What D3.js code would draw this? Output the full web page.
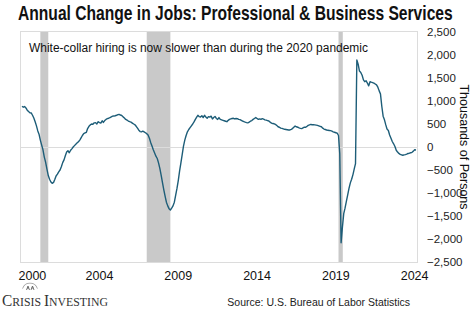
<!DOCTYPE html>
<html>
<head>
<meta charset="utf-8">
<script src="https://cdn.jsdelivr.net/npm/d3@7"></script>
<style>
  body { margin: 0; background: #fff; }
  svg { display: block; }
  .narrow { font-family: "Liberation Sans Narrow", "Arial Narrow", "Liberation Sans", Arial, sans-serif; }
</style>
</head>
<body>
<svg id="chart"></svg>
<script>
// Annual change in jobs, thousands, monthly from Jan 2000
const startYear = 2000;
const jobsChange = [
  // 2000
  885, 865, 880, 850, 800, 770, 745, 740, 690, 630, 550, 460,
  // 2001
  350, 270, 150, 40, -60, -220, -330, -480, -620, -700, -760, -790,
  // 2002
  -770, -700, -630, -590, -540, -500, -430, -340, -280, -190, -110, -80,
  // 2003
  -125, -70, -40, 0, 30, 60, 90, 115, 150, 200, 250, 290,
  // 2004
  305, 320, 400, 450, 480, 500, 495, 525, 530, 500, 550, 530,
  // 2005
  520, 570, 535, 575, 600, 615, 625, 640, 655, 670, 675, 680,
  // 2006
  690, 705, 710, 695, 685, 655, 630, 600, 585, 565, 550, 540,
  // 2007
  520, 500, 485, 450, 410, 365, 335, 330, 345, 330, 310, 290,
  // 2008
  260, 190, 100, 20, -60, -130, -200, -250, -350, -470, -620, -780,
  // 2009
  -935, -1080, -1200, -1280, -1340, -1370, -1330, -1280, -1200, -1050, -900, -730,
  // 2010
  -520, -340, -170, 20, 150, 250, 330, 380, 420, 460, 500, 545,
  // 2011
  600, 650, 690, 660, 650, 680, 640, 690, 650, 625, 660, 650,
  // 2012
  670, 610, 640, 665, 620, 600, 640, 600, 590, 580, 570, 560,
  // 2013
  550, 580, 600, 610, 620, 625, 610, 620, 615, 600, 595, 580,
  // 2014
  565, 550, 540, 530, 525, 540, 560, 575, 600, 620, 640, 620,
  // 2015
  600, 610, 600, 615, 605, 590, 585, 575, 565, 540, 520, 510,
  // 2016
  505, 490, 470, 440, 430, 410, 405, 395, 385, 380, 375, 370,
  // 2017
  370, 385, 400, 430, 455, 440, 430, 415, 405, 400, 415, 430,
  // 2018
  430, 450, 470, 480, 490, 485, 485, 480, 475, 470, 460, 450,
  // 2019
  440, 410, 390, 380, 370, 365, 360, 355, 345, 330, 320, 310,
  // 2020
  300, 250, -150, -2080, -1750, -1450, -1330, -1180, -1040, -900, -780, -700,
  // 2021
  -600, -470, -360, 1890, 1800, 1650, 1620, 1560, 1460, 1420, 1440, 1390,
  // 2022
  1330, 1420, 1410, 1400, 1390, 1370, 1350, 1300, 1220, 1150, 880, 670,
  // 2023
  590, 480, 390, 360, 260, 190, 120, 70, 10, -70, -110, -140,
  // 2024
  -160, -170, -180, -170, -165, -155, -140, -135, -125, -115, -90, -60,
  // 2025
  -65
];

// Recessions (start, end)
const recessions = [
  ["2001-03-01", "2001-09-01"],
  ["2007-12-01", "2009-06-01"],
  ["2020-02-01", "2020-05-10"]
];

const xTickYears = [2000, 2004, 2009, 2014, 2019, 2024];
const yTicks = [2500, 2000, 1500, 1000, 500, 0, -500, -1000, -1500, -2000, -2500];

const width = 474;
const height = 312;
const plot = { left: 20, right: 417, top: 31, bottom: 262 };

const svg = d3.select("#chart").attr("width", width).attr("height", height);

const parse = d3.timeParse("%Y-%m-%d");
const data = jobsChange.map((v, i) => ({ date: new Date(startYear, i, 1), value: v }));

const x = d3.scaleTime()
  .domain([new Date(2000, 0, 1), new Date(2025, 0, 1)])
  .range([22, 416]);
const y = d3.scaleLinear().domain([-2500, 2500]).range([262, 32]);

// squeeze a text horizontally so it fills a given width
function fitText(sel, left, baseline, targetWidth) {
  const w = sel.node().getComputedTextLength();
  sel.attr("transform", `translate(${left},${baseline}) scale(${targetWidth / w},1)`);
}

// Recession shading
svg.append("g")
  .selectAll("rect")
  .data(recessions)
  .join("rect")
  .attr("x", d => x(parse(d[0])))
  .attr("width", d => x(parse(d[1])) - x(parse(d[0])))
  .attr("y", plot.top)
  .attr("height", plot.bottom - plot.top)
  .attr("fill", "#c9c9c9");

// Plot frame
svg.append("rect")
  .attr("x", plot.left + 0.5)
  .attr("y", plot.top + 0.5)
  .attr("width", plot.right - plot.left)
  .attr("height", plot.bottom - plot.top)
  .attr("fill", "none")
  .attr("stroke", "#dcdcdc");

// Zero line
svg.append("line")
  .attr("x1", plot.left).attr("x2", plot.right)
  .attr("y1", Math.round(y(0)) + 0.5).attr("y2", Math.round(y(0)) + 0.5)
  .attr("stroke", "#dcdcdc");

// Line
const line = d3.line()
  .x(d => x(d.date))
  .y(d => y(d.value));

svg.append("path")
  .datum(data)
  .attr("d", line)
  .attr("fill", "none")
  .attr("stroke", "#1d5d78")
  .attr("stroke-width", 1.4)
  .attr("stroke-linejoin", "round");

// Y axis on the right
const yAxis = svg.append("g")
  .attr("class", "narrow")
  .attr("transform", `translate(${plot.right},0)`)
  .call(d3.axisRight(y).tickValues(yTicks).tickSize(0).tickPadding(10)
    .tickFormat(d3.format(",")));
yAxis.select(".domain").remove();
yAxis.selectAll("text")
  .attr("font-size", 11.5)
  .attr("fill", "#222")
  .attr("font-family", null);

// X axis
const xAxis = svg.append("g")
  .attr("class", "narrow")
  .attr("transform", `translate(0,${plot.bottom})`)
  .call(d3.axisBottom(x)
    .tickValues(xTickYears.map(yr => new Date(yr, 0, 1)))
    .tickSize(0).tickPadding(9)
    .tickFormat(d3.timeFormat("%Y")));
xAxis.select(".domain").remove();
xAxis.selectAll("text")
  .attr("text-anchor", "start")
  .attr("font-size", 12.5)
  .attr("fill", "#111")
  .attr("font-family", null)
  .attr("dx", (d, i) => i === 0 ? -4 : 0);

// Axis title
svg.append("text")
  .attr("class", "narrow")
  .attr("transform", `translate(460,${y(0)}) rotate(90)`)
  .attr("text-anchor", "middle")
  .attr("font-size", 12.5)
  .attr("fill", "#111")
  .text("Thousands of Persons");

// Title
const title = svg.append("text")
  .attr("class", "narrow")
  .attr("font-size", 19.5)
  .attr("font-weight", "bold")
  .attr("fill", "#111")
  .text("Annual Change in Jobs: Professional & Business Services");
fitText(title, 18, 20, 435);

// Subtitle
const subtitle = svg.append("text")
  .attr("class", "narrow")
  .attr("font-size", 13.5)
  .attr("fill", "#111")
  .text("White-collar hiring is now slower than during the 2020 pandemic");
fitText(subtitle, 29, 52, 339);

// Source
svg.append("text")
  .attr("class", "narrow")
  .attr("x", 410)
  .attr("y", 306)
  .attr("text-anchor", "end")
  .attr("font-size", 10.5)
  .attr("fill", "#222")
  .text("Source: U.S. Bureau of Labor Statistics");

// Logo
const logo = svg.append("g");
logo.append("path")
  .attr("d", d3.arc()({ innerRadius: 7.5, outerRadius: 8.2, startAngle: -1.25, endAngle: 1.25 }))
  .attr("transform", "translate(30,291)")
  .attr("fill", "#999");
logo.selectAll("path.fig")
  .data([26.5, 31])
  .join("path")
  .attr("class", "fig")
  .attr("d", d => `M${d},290 l1.5,-4 l1.5,4 M${d + 0.5},288 h2`)
  .attr("stroke", "#555")
  .attr("stroke-width", 0.8)
  .attr("fill", "none");
const logoText = logo.append("text")
  .attr("font-family", "Liberation Serif, Times New Roman, serif")
  .attr("fill", "#333");
logoText.append("tspan").attr("font-size", 17).text("C");
logoText.append("tspan").attr("font-size", 13).text("RISIS ");
logoText.append("tspan").attr("font-size", 17).text("I");
logoText.append("tspan").attr("font-size", 13).text("NVESTING");
fitText(logoText, 2, 306, 106);
</script>
</body>
</html>
